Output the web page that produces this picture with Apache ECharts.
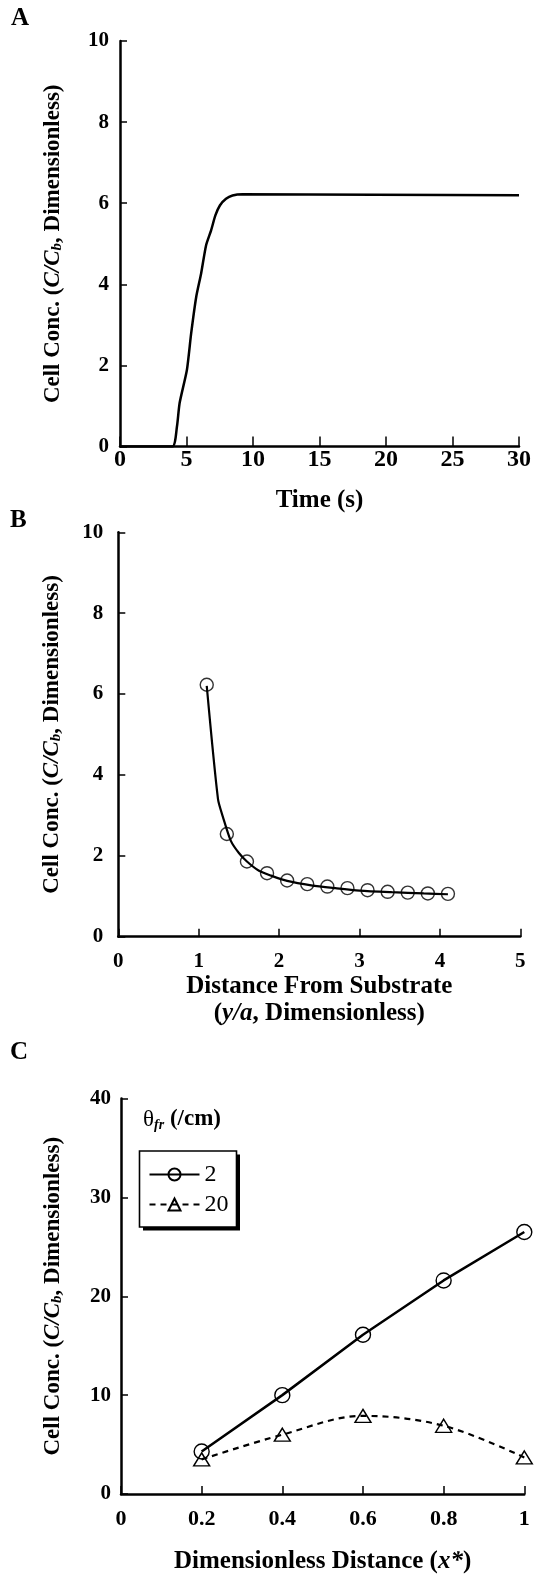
<!DOCTYPE html>
<html><head><meta charset="utf-8">
<script src="https://cdn.jsdelivr.net/npm/echarts@6/dist/echarts.min.js"></script>
<style>html,body{margin:0;padding:0;background:#fff}#c{width:534px;height:1575px}</style>
</head><body><div id="c"></div>
<script>
// Panel A: concentration vs time
const timeS = [0, 3.93, 4.28, 4.48, 5.03, 5.35, 5.73, 6.10, 6.47, 6.85, 7.17, 7.52, 7.97, 8.46, 9.21, 30];
const concTime = [0, 0, 0.49, 1.07, 1.89, 2.79, 3.69, 4.27, 4.96, 5.33, 5.70, 5.95, 6.11, 6.19, 6.22, 6.2];
// Panel B: concentration vs distance from substrate
const distMarkers = [1.1, 1.35, 1.6, 1.85, 2.1, 2.35, 2.6, 2.85, 3.1, 3.35, 3.6, 3.85, 4.1];
const concMarkers = [6.23, 2.54, 1.86, 1.57, 1.39, 1.30, 1.24, 1.20, 1.15, 1.11, 1.09, 1.07, 1.06];
const distCurve = [1.1, 1.24, 1.3, 1.4, 1.5, 1.6, 1.75, 1.9, 2.1, 2.4, 2.7, 3.0, 3.4, 3.8, 4.1];
const concCurve = [6.2, 3.4, 2.97, 2.37, 2.07, 1.86, 1.63, 1.51, 1.38, 1.27, 1.20, 1.14, 1.10, 1.07, 1.05];
// Panel C: concentration vs dimensionless distance
const xStar = [0.2, 0.4, 0.6, 0.8, 1.0];
const seriesNames = ['2', '20'];
const conc2 = [4.3, 10.0, 16.1, 21.6, 26.5];
const conc20 = [3.5, 6.0, 7.9, 6.9, 3.7];

const FONT = '"Liberation Serif", "Times New Roman", serif';
const zip = (a, b) => a.map((v, i) => [v, b[i]]);

const yName = 'Cell Conc. ({i|C/C}{sub|b}{n|, Dimensionless)}';
const yNameStyle = {
  fontFamily: FONT, fontWeight: 'bold', fontSize: 23, color: '#000',
  rich: {
    i: {fontFamily: FONT, fontWeight: 'bold', fontStyle: 'italic', fontSize: 23, color: '#000'},
    sub: {fontFamily: FONT, fontWeight: 'bold', fontStyle: 'italic', fontSize: 15, color: '#000', verticalAlign: 'bottom', lineHeight: 12},
    n: {fontFamily: FONT, fontWeight: 'bold', fontSize: 23, color: '#000'}
  }
};
const axisLine = {show: true, lineStyle: {color: '#000', width: 2.5}};
const tickIn = (len) => ({show: true, inside: true, length: len, lineStyle: {color: '#000', width: 1.5}});
const lbl = (size, margin, fmt) => ({fontFamily: FONT, fontWeight: 'bold', fontSize: size, color: '#000', margin: margin, formatter: fmt});

function yAxis(grid, max, interval, margin, gap) {
  return {
    type: 'value', gridIndex: grid, min: 0, max: max, interval: interval,
    axisLine: axisLine, axisTick: tickIn(7), splitLine: {show: false},
    axisLabel: lbl(21, margin),
    name: yName, nameLocation: 'middle', nameRotate: 90, nameGap: gap, nameTextStyle: yNameStyle
  };
}

const option = {
  animation: false,
  backgroundColor: '#fff',
  grid: [
    {left: 120, top: 41, width: 401.7, height: 405.6},
    {left: 118.3, top: 532.3, width: 402, height: 404.4},
    {left: 121, top: 1098.5, width: 403.3, height: 399.5}
  ],
  xAxis: [
    {type: 'value', gridIndex: 0, min: 0, max: 30, interval: 5,
     axisLine: axisLine, axisTick: tickIn(10), splitLine: {show: false},
     axisLabel: lbl(24, 1),
     name: 'Time (s)', nameLocation: 'middle', nameGap: 41,
     nameTextStyle: {fontFamily: FONT, fontWeight: 'bold', fontSize: 25, color: '#000'}},
    {type: 'value', gridIndex: 1, min: 0, max: 5, interval: 1,
     axisLine: axisLine, axisTick: tickIn(8), splitLine: {show: false},
     axisLabel: lbl(21, 14),
     name: 'Distance From Substrate\n({i|y/a}, Dimensionless)', nameLocation: 'middle', nameGap: 31,
     nameTextStyle: {fontFamily: FONT, fontWeight: 'bold', fontSize: 25, color: '#000', lineHeight: 27,
       rich: {i: {fontFamily: FONT, fontWeight: 'bold', fontStyle: 'italic', fontSize: 25, color: '#000', lineHeight: 27}}}},
    {type: 'value', gridIndex: 2, min: 0, max: 1, interval: 0.2,
     axisLine: axisLine, axisTick: tickIn(8), splitLine: {show: false},
     axisLabel: lbl(22, 14, v => (Math.round(v * 10) / 10).toString()),
     name: 'Dimensionless Distance ({i|x*})', nameLocation: 'middle', nameGap: 55,
     nameTextStyle: {fontFamily: FONT, fontWeight: 'bold', fontSize: 25, color: '#000',
       rich: {i: {fontFamily: FONT, fontWeight: 'bold', fontStyle: 'italic', fontSize: 25, color: '#000'}}}}
  ],
  yAxis: [
    yAxis(0, 10, 2, 11, 55),
    yAxis(1, 10, 2, 15, 55),
    yAxis(2, 40, 10, 10, 56)
  ],
  legend: {
    data: seriesNames, orient: 'vertical', left: 139.5, top: 1150.5,
    padding: [12, 10, 12, 9], itemGap: 6, itemWidth: 50, itemHeight: 15,
    textStyle: {fontFamily: FONT, fontSize: 24, color: '#000'}
  },
  graphic: [
    {type: 'text', left: 11, top: 6, style: {text: 'A', font: 'bold 25px ' + FONT, fill: '#000'}},
    {type: 'text', left: 10, top: 508, style: {text: 'B', font: 'bold 25px ' + FONT, fill: '#000'}},
    {type: 'text', left: 10, top: 1040, style: {text: 'C', font: 'bold 25px ' + FONT, fill: '#000'}},
    {type: 'text', left: 143, top: 1108, style: {
      text: '{t|θ}{s|fr}{b| (/cm)}',
      rich: {
        t: {fontFamily: FONT, fontSize: 23, fill: '#000', lineHeight: 26},
        s: {fontFamily: FONT, fontSize: 14, fontStyle: 'italic', fontWeight: 'bold', fill: '#000', verticalAlign: 'bottom', lineHeight: 14},
        b: {fontFamily: FONT, fontSize: 23, fontWeight: 'bold', fill: '#000', lineHeight: 26}
      }
    }},
    // legend frame with drop shadow
    {type: 'rect', z: 0, shape: {x: 143, y: 1154.5, width: 97, height: 76}, style: {fill: '#000'}},
    {type: 'rect', z: 1, shape: {x: 139.5, y: 1151, width: 97, height: 76}, style: {fill: '#fff', stroke: '#000', lineWidth: 1.6}}
  ],
  series: [
    {type: 'line', xAxisIndex: 0, yAxisIndex: 0, data: zip(timeS, concTime), showSymbol: false, symbol: 'none',
     smooth: 0.2, lineStyle: {color: '#000', width: 2.5}},
    {type: 'line', xAxisIndex: 1, yAxisIndex: 1, data: zip(distCurve, concCurve), symbol: 'none',
     smooth: 0.25, lineStyle: {color: '#000', width: 2.2}},
    {type: 'scatter', xAxisIndex: 1, yAxisIndex: 1, data: zip(distMarkers, concMarkers), symbol: 'circle', symbolSize: 13,
     itemStyle: {color: 'rgba(0,0,0,0)', borderColor: '#000', borderWidth: 1.4}},
    {name: '2', type: 'line', xAxisIndex: 2, yAxisIndex: 2, data: zip(xStar, conc2), symbol: 'circle', symbolSize: 15,
     lineStyle: {color: '#000', width: 2.5}, itemStyle: {color: 'rgba(0,0,0,0)', borderColor: '#000', borderWidth: 1.4}},
    {name: '20', type: 'line', xAxisIndex: 2, yAxisIndex: 2, data: zip(xStar, conc20), symbol: 'triangle', symbolSize: [16, 13],
     smooth: 0.35, lineStyle: {color: '#000', width: 2.2, type: [6, 5]}, itemStyle: {color: 'rgba(0,0,0,0)', borderColor: '#000', borderWidth: 1.4}}
  ]
};
const chart = echarts.init(document.getElementById('c'), null, {renderer: 'canvas'});
chart.setOption(option);
</script></body></html>
